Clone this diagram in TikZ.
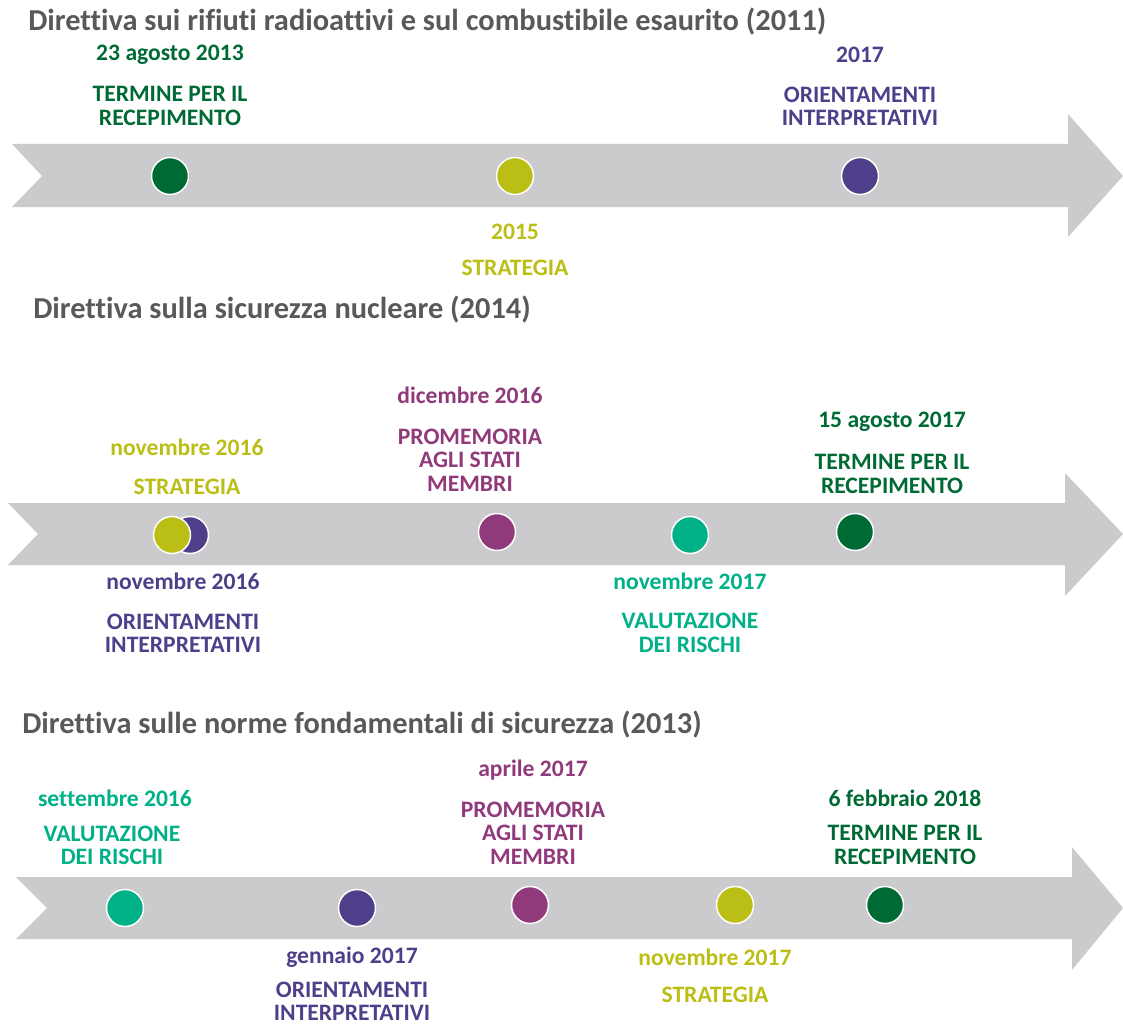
\documentclass[tikz,border=0pt]{standalone}
\usepackage{fontspec}
\setmainfont{Carlito}[Ligatures=CommonOff]
\definecolor{verde}{HTML}{006A35}
\definecolor{oliva}{HTML}{BBBE14}
\definecolor{indaco}{HTML}{4F3F8B}
\definecolor{magenta}{HTML}{913A7B}
\definecolor{turchese}{HTML}{00B086}
\definecolor{fascia}{HTML}{CBCBCD}
\definecolor{grigio}{HTML}{595959}

\begin{document}
\begin{tikzpicture}[x=0.75pt,y=-0.75pt,
    dot/.style={circle,fill=#1,draw=white,line width=1.1pt,minimum size=27.75pt,inner sep=0pt},
    data/.style={text=#1,inner sep=0pt,font=\bfseries\fontsize{17.7}{17.5}\selectfont},
    voce/.style={text=#1,inner sep=0pt,align=center,font=\bfseries\fontsize{17.7}{17.5}\selectfont},
    titolo/.style={anchor=west,inner sep=0pt,text=grigio,font=\bfseries\fontsize{22.8}{24}\selectfont}]
  \useasboundingbox (0,0) rectangle (1123,1027);

  % --- rifiuti radioattivi (2011)
  \node[titolo] (t1) at (28,22) {Direttiva sui rifiuti radioattivi e sul combustibile esaurito (2011)};
  \fill[fascia] (12,144) -- (1068,144) -- (1068,114) -- (1123,176) -- (1068,237)
               -- (1068,207) -- (12,207) -- (42,176) -- cycle;
  \node[dot=verde]  (a1) at (170,176) {};
  \node[dot=oliva]  (a2) at (515,176) {};
  \node[dot=indaco] (a3) at (860,176) {};
  \node[data=verde]  (d1) at (170,55)  {23 agosto 2013};
  \node[voce=verde]  (v1) at (170,106) {TERMINE PER IL\\RECEPIMENTO};
  \node[data=indaco] (d3) at (860,55)  {2017};
  \node[voce=indaco] (v3) at (860,106) {ORIENTAMENTI\\INTERPRETATIVI};
  \node[data=oliva]  (d2) at (515,232) {2015};
  \node[voce=oliva]  (v2) at (515,268) {STRATEGIA};

  % --- sicurezza nucleare (2014)
  \node[titolo] (t2) at (33,310) {Direttiva sulla sicurezza nucleare (2014)};
  \fill[fascia] (8,503) -- (1065,503) -- (1065,473) -- (1123,534) -- (1065,596)
               -- (1065,565) -- (8,565) -- (38,534) -- cycle;
  \node[dot=indaco]   (b2) at (190,535) {};
  \node[dot=oliva]    (b1) at (172,535) {};
  \node[dot=magenta]  (b3) at (497,532) {};
  \node[dot=turchese] (b4) at (690,535) {};
  \node[dot=verde]    (b5) at (855,532) {};
  \node[data=oliva]    (e1) at (187,447) {novembre 2016};
  \node[voce=oliva]    (w1) at (187,487) {STRATEGIA};
  \node[data=magenta]  (e3) at (470,395) {dicembre 2016};
  \node[voce=magenta]  (w3) at (470,460) {PROMEMORIA\\AGLI STATI\\MEMBRI};
  \node[data=verde]    (e5) at (892,422) {15 agosto 2017};
  \node[voce=verde]    (w5) at (892,474) {TERMINE PER IL\\RECEPIMENTO};
  \node[data=indaco]   (e2) at (183,581) {novembre 2016};
  \node[voce=indaco]   (w2) at (183,633) {ORIENTAMENTI\\INTERPRETATIVI};
  \node[data=turchese] (e4) at (690,581) {novembre 2017};
  \node[voce=turchese] (w4) at (690,633) {VALUTAZIONE\\DEI RISCHI};

  % --- norme fondamentali di sicurezza (2013)
  \node[titolo] (t3) at (22,725) {Direttiva sulle norme fondamentali di sicurezza (2013)};
  \fill[fascia] (16,877) -- (1072,877) -- (1072,847) -- (1123,908) -- (1072,970)
               -- (1072,939) -- (16,939) -- (47,908) -- cycle;
  \node[dot=turchese] (c1) at (125,908) {};
  \node[dot=indaco]   (c2) at (357,908) {};
  \node[dot=magenta]  (c3) at (530,905) {};
  \node[dot=oliva]    (c4) at (735,905) {};
  \node[dot=verde]    (c5) at (885,905) {};
  \node[data=turchese] (f1) at (115,798)  {settembre 2016};
  \node[voce=turchese] (x1) at (112,845)  {VALUTAZIONE\\DEI RISCHI};
  \node[data=magenta]  (f3) at (533,770)  {aprile 2017};
  \node[voce=magenta]  (x3) at (533,833)  {PROMEMORIA\\AGLI STATI\\MEMBRI};
  \node[data=verde]    (f5) at (905,798)  {6 febbraio 2018};
  \node[voce=verde]    (x5) at (905,845)  {TERMINE PER IL\\RECEPIMENTO};
  \node[data=indaco]   (f2) at (352,957)  {gennaio 2017};
  \node[voce=indaco]   (x2) at (352,1001) {ORIENTAMENTI\\INTERPRETATIVI};
  \node[data=oliva]    (f4) at (715,957)  {novembre 2017};
  \node[voce=oliva]    (x4) at (715,995)  {STRATEGIA};
\end{tikzpicture}
\end{document}
